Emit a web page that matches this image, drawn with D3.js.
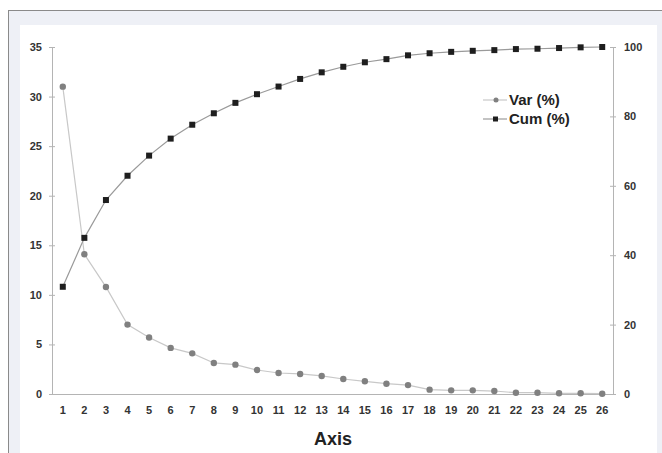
<!DOCTYPE html>
<html>
<head>
<title>Var and Cum by Axis</title>
<script src="https://d3js.org/d3.v7.min.js"></script>
<style>
body { margin: 0; background: #fff; }
</style>
</head>
<body>
<div id="chart"></div>
<script>
var axes = d3.range(1, 27);
var varPct = [31.0, 14.1, 10.8, 7.0, 5.7, 4.65, 4.1, 3.13, 2.96, 2.42, 2.12, 2.02, 1.82,
  1.51, 1.28, 1.04, 0.9, 0.44, 0.37, 0.37, 0.3, 0.13, 0.13, 0.07, 0.07, 0.03];
var cumPct = [30.9, 45.0, 55.9, 62.9, 68.7, 73.6, 77.6, 80.9, 83.9, 86.4, 88.6, 90.8, 92.7,
  94.3, 95.6, 96.5, 97.6, 98.2, 98.6, 98.9, 99.1, 99.4, 99.5, 99.7, 99.9, 100];
var leftTicks = [0, 5, 10, 15, 20, 25, 30, 35];
var rightTicks = [0, 20, 40, 60, 80, 100];

var W = 662, H = 453;
var plotLeft = 52, plotRight = 613, plotTop = 47, plotBottom = 394;
var narrow = "'Liberation Sans Narrow', 'Arial Narrow', 'Liberation Sans', sans-serif";

var svg = d3.select("#chart").append("svg")
  .attr("width", W).attr("height", H);

// frame
svg.append("rect").attr("x", 0).attr("y", 0).attr("width", W).attr("height", H).attr("fill", "#fff");
svg.append("rect").attr("x", 8.5).attr("y", 10.5).attr("width", W).attr("height", H)
  .attr("fill", "#eef0f6").attr("stroke", "#8a8a8a");
svg.append("rect").attr("x", 20).attr("y", 25).attr("width", 637).attr("height", H - 25)
  .attr("fill", "#fff");

var x = d3.scaleBand().domain(axes).range([plotLeft, plotRight]);
var yL = d3.scaleLinear().domain([0, 35]).range([plotBottom, plotTop]);
var yR = d3.scaleLinear().domain([0, 100]).range([plotBottom, plotTop]);
var cx = function(d) { return x(d) + x.bandwidth() / 2; };

// axes
var gL = svg.append("g").attr("transform", "translate(" + plotLeft + ",0)")
  .call(d3.axisLeft(yL).tickValues(leftTicks).tickSizeInner(3).tickSizeOuter(0).tickPadding(7));
gL.selectAll(".tick line").attr("x2", 3).attr("x1", -3);
var gR = svg.append("g").attr("transform", "translate(" + plotRight + ",0)")
  .call(d3.axisRight(yR).tickValues(rightTicks).tickSizeInner(3).tickSizeOuter(0).tickPadding(8));
gR.selectAll(".tick line").attr("x1", -3).attr("x2", 3);
var gX = svg.append("g").attr("transform", "translate(0," + plotBottom + ")")
  .call(d3.axisBottom(x).tickSize(0).tickPadding(12));

[gL, gR, gX].forEach(function(g) {
  g.select(".domain").attr("stroke", "#b4b4b4");
  g.selectAll(".tick line").attr("stroke", "#b4b4b4");
  g.selectAll(".tick text").attr("fill", "#333").attr("font-family", narrow)
    .attr("font-weight", "bold").attr("font-size", 11);
});

// Var line
svg.append("path").datum(varPct)
  .attr("fill", "none").attr("stroke", "#c8c8c8").attr("stroke-width", 1.2)
  .attr("d", d3.line().x(function(d, i) { return cx(axes[i]); }).y(function(d) { return yL(d); }));
svg.selectAll(".vdot").data(varPct).enter().append("circle")
  .attr("cx", function(d, i) { return cx(axes[i]); })
  .attr("cy", function(d) { return yL(d); })
  .attr("r", 3.2).attr("fill", "#808080");

// Cum line
svg.append("path").datum(cumPct)
  .attr("fill", "none").attr("stroke", "#9a9a9a").attr("stroke-width", 1.2)
  .attr("d", d3.line().x(function(d, i) { return cx(axes[i]); }).y(function(d) { return yR(d); }));
svg.selectAll(".csq").data(cumPct).enter().append("rect")
  .attr("x", function(d, i) { return cx(axes[i]) - 3; })
  .attr("y", function(d) { return yR(d) - 3; })
  .attr("width", 6).attr("height", 6).attr("fill", "#1e1e1e");

// legend
var legend = [
  { name: "Var (%)", color: "#c8c8c8", mark: "circle", fill: "#808080" },
  { name: "Cum (%)", color: "#9a9a9a", mark: "rect", fill: "#1e1e1e" }
];
var lg = svg.selectAll(".leg").data(legend).enter().append("g")
  .attr("transform", function(d, i) { return "translate(483," + (100 + i * 19) + ")"; });
lg.append("line").attr("x1", 0).attr("x2", 24).attr("stroke", function(d) { return d.color; }).attr("stroke-width", 1.2);
lg.filter(function(d) { return d.mark === "circle"; }).append("circle")
  .attr("cx", 13).attr("r", 2.5).attr("fill", function(d) { return d.fill; });
lg.filter(function(d) { return d.mark === "rect"; }).append("rect")
  .attr("x", 10).attr("y", -2.5).attr("width", 5).attr("height", 5).attr("fill", function(d) { return d.fill; });
lg.append("text").attr("x", 26).attr("dy", "0.36em")
  .attr("font-family", narrow).attr("font-weight", "bold").attr("font-size", 15)
  .attr("fill", "#222").text(function(d) { return d.name; });

// axis title
svg.append("text").attr("x", 333).attr("y", 445).attr("text-anchor", "middle")
  .attr("font-family", "'Liberation Sans', Arial, sans-serif").attr("font-weight", "bold")
  .attr("font-size", 18).attr("fill", "#222").text("Axis");
</script>
</body>
</html>
